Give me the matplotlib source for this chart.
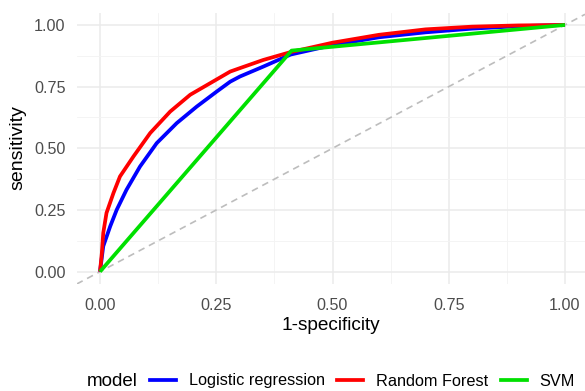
import matplotlib
matplotlib.use('Agg')
import matplotlib.pyplot as plt
from matplotlib.lines import Line2D

plt.rcParams['font.family'] = ['Liberation Sans', 'DejaVu Sans']

# ROC curves (false positive rate, true positive rate)
lr_fpr = [0.0, 0.007, 0.022, 0.036, 0.057, 0.086, 0.122, 0.165, 0.208, 0.251, 0.28, 0.301,
          0.351, 0.41, 0.5, 0.6, 0.7, 0.8, 0.9, 1.0]
lr_tpr = [0.0, 0.103, 0.184, 0.251, 0.332, 0.426, 0.521, 0.602, 0.669, 0.730, 0.77, 0.791,
          0.831, 0.880, 0.918, 0.950, 0.970, 0.985, 0.995, 1.0]

rf_fpr = [0.0, 0.004, 0.007, 0.014, 0.029, 0.043, 0.072, 0.108, 0.151, 0.194, 0.237, 0.28,
          0.301, 0.351, 0.41, 0.5, 0.6, 0.7, 0.8, 0.9, 1.0]
rf_tpr = [0.0, 0.076, 0.157, 0.238, 0.319, 0.386, 0.467, 0.562, 0.649, 0.717, 0.764, 0.811,
          0.825, 0.858, 0.890, 0.928, 0.960, 0.982, 0.993, 0.998, 1.0]

svm_fpr = [0.0, 0.412, 1.0]
svm_tpr = [0.0, 0.896, 1.0]

models = ['Logistic regression', 'Random Forest', 'SVM']
colors = ['#0000FF', '#FF0000', '#00E000']

W, H = 585, 391
fig = plt.figure(figsize=(W / 100, H / 100), dpi=100)
ax = fig.add_axes([76.75 / W, (H - 284) / H, (W - 76.75) / W, (284 - 12.6) / H])

ax.axline((0, 0), (1, 1), color='#BDBDBD', linestyle=(0, (4, 3)), linewidth=1.2, zorder=1)

for fpr, tpr, c in zip([lr_fpr, rf_fpr, svm_fpr], [lr_tpr, rf_tpr, svm_tpr], colors):
    ax.plot(fpr, tpr, color=c, linewidth=2.7, solid_capstyle='butt',
            solid_joinstyle='round', zorder=2)

ax.set_xlim(-0.05, 1.0 + 20 / 465)
ax.set_ylim(-0.05, 1.05)
ticks = [0, 0.25, 0.5, 0.75, 1.0]
ax.set_xticks(ticks)
ax.set_yticks(ticks)
ax.set_xticklabels(['0.00', '0.25', '0.50', '0.75', '1.00'])
ax.set_yticklabels(['0.00', '0.25', '0.50', '0.75', '1.00'])
ax.set_xticks([0.125, 0.375, 0.625, 0.875], minor=True)
ax.set_yticks([0.125, 0.375, 0.625, 0.875], minor=True)
ax.grid(which='major', color='#EBEBEB', linewidth=1.1)
ax.grid(which='minor', color='#F3F3F3', linewidth=0.6)
ax.set_axisbelow(True)
ax.tick_params(which='both', length=0)
ax.tick_params(labelsize=11.6, labelcolor='#4D4D4D')
ax.tick_params(axis='x', pad=10)
ax.tick_params(axis='y', pad=8)
for s in ax.spines.values():
    s.set_visible(False)

ax.set_xlabel('1-specificity', fontsize=13.7, va='center')
ax.xaxis.set_label_coords(0.5, (284 - 325) / 271.4)
ax.set_ylabel('sensitivity', fontsize=14, va='center')
ax.yaxis.set_label_coords((18 - 76.75) / 508.25, (284 - 148) / 271.4)

fig.text(87 / W, 1 - 381 / H, 'model', fontsize=13.5, va='center', ha='left')
handles = [Line2D([], [], color=c, linewidth=2.7) for c in colors]
fig.legend(handles, models, ncol=3, loc='center left', bbox_to_anchor=(150 / W, 1 - 381 / H),
           frameon=False, fontsize=11.7, handlelength=1.6, handletextpad=0.8,
           columnspacing=0.75, borderaxespad=0, borderpad=0)

fig.savefig('out.png', dpi=100)
